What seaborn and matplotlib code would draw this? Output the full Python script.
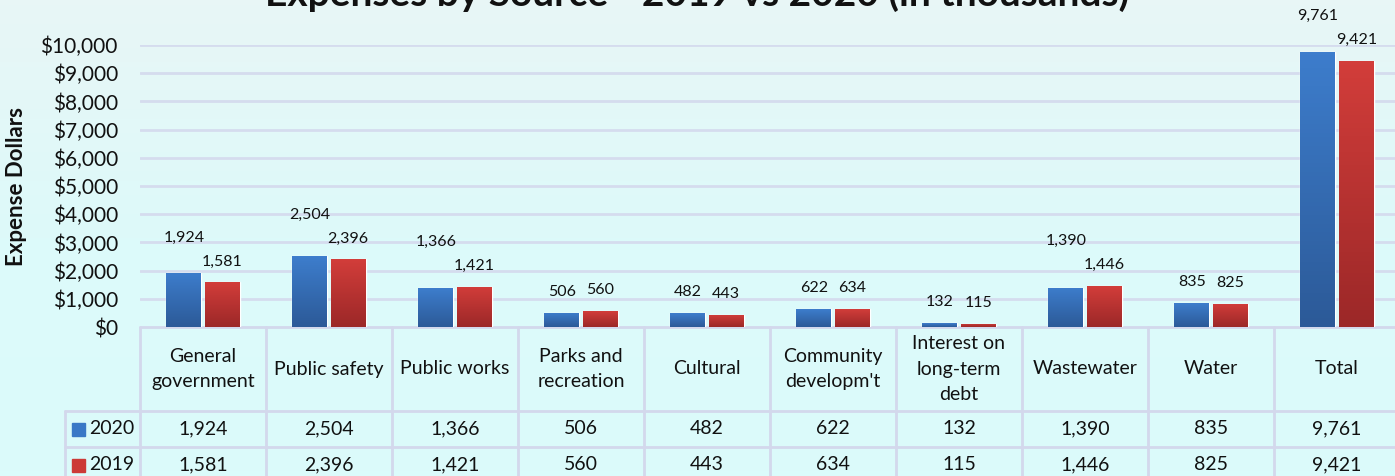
import numpy as np
import pandas as pd
import matplotlib
matplotlib.use("Agg")
import matplotlib.pyplot as plt
import seaborn as sns
from matplotlib.colors import LinearSegmentedColormap

categories = ["General\ngovernment", "Public safety", "Public works", "Parks and\nrecreation",
              "Cultural", "Community\ndevelopm't", "Interest on\nlong-term\ndebt",
              "Wastewater", "Water", "Total"]
years = ["2020", "2019"]
values_2020 = [1924, 2504, 1366, 506, 482, 622, 132, 1390, 835, 9761]
values_2019 = [1581, 2396, 1421, 560, 443, 634, 115, 1446, 825, 9421]
yticks = list(range(0, 10001, 1000))
title = "Expenses by Source - 2019 vs 2020 (in thousands)"

df = pd.DataFrame({
    "category": categories * 2,
    "year": [years[0]] * len(categories) + [years[1]] * len(categories),
    "value": values_2020 + values_2019,
})

sns.set_style("white")
plt.rcParams["font.family"] = ["Lato", "DejaVu Sans"]

W, H = 1395, 476
fig = plt.figure(figsize=(W / 100, H / 100), dpi=100)

# background
bg = fig.add_axes([0, 0, 1, 1], zorder=-10)
bg.imshow(np.linspace(0, 1, 100).reshape(-1, 1), aspect="auto", extent=[0, 1, 0, 1],
          cmap=LinearSegmentedColormap.from_list("bg", ["#e8f6f6", "#ddfafa", "#dbfbfb"]))
bg.axis("off")

# layout in pixels
left_px, col_px, base_px, top_px = 140, 126, 327, 45
ax = fig.add_axes([left_px / W, 1 - base_px / H, col_px * len(categories) / W, (base_px - top_px) / H])
ax.patch.set_alpha(0)

colors = {"2020": "#3a78c6", "2019": "#cc3a37"}
grads = {"2020": ["#2c5a98", "#3d7dcc"], "2019": ["#9c2828", "#d23d3a"]}
sns.barplot(data=df, x="category", y="value", hue="year", hue_order=years, order=categories,
            palette=colors, width=0.61, gap=0.09, ax=ax, legend=False, zorder=3)

# gradient fill on bars
for cont, yr in zip(ax.containers, years):
    cmap = LinearSegmentedColormap.from_list(yr, grads[yr])
    for p in cont.patches:
        x0, w, h = p.get_x(), p.get_width(), p.get_height()
        im = ax.imshow(np.linspace(0, 1, 64).reshape(-1, 1), origin="lower", aspect="auto",
                       extent=[x0, x0 + w, 0, h], cmap=cmap, zorder=4)
        im.set_clip_path(p)

ax.set_xlim(-0.5, len(categories) - 0.5)
ax.set_ylim(0, 10000)
ax.set_yticks(yticks)
ax.set_yticklabels([f"${v:,}" for v in yticks], fontsize=15, color="#111111")
ax.tick_params(axis="y", length=0, pad=16)
ax.set_xticks([])
ax.set_xlabel("")
ax.set_ylabel("")
for s in ax.spines.values():
    s.set_visible(False)
for v in yticks[1:]:
    ax.axhline(v, color="#d5dcee", lw=2, zorder=1)

# data labels
px_per_unit = (base_px - top_px) / 10000
off = 21 / px_per_unit
step = 24 / px_per_unit
for i, (a, b) in enumerate(zip(values_2020, values_2019)):
    pa, pb = ax.containers[0].patches[i], ax.containers[1].patches[i]
    xa = pa.get_x() + pa.get_width() / 2
    xb = pb.get_x() + pb.get_width() / 2
    yb = b + off
    ya = a + off
    if len(f"{a:,}") > 3 and abs(ya - yb) < step:
        ya = max(ya, yb + step)
    ax.text(xa, ya, f"{a:,}", ha="center", va="center", fontsize=11.5, color="#111111", zorder=6)
    ax.text(xb, yb, f"{b:,}", ha="center", va="center", fontsize=11.5, color="#111111", zorder=6)

# title and axis label
fig.text(697 / W, 1 - 6 / H, title, ha="center", va="baseline", fontsize=28,
         fontweight="bold", color="#111111")
fig.text(17 / W, 1 - 186 / H, "Expense Dollars", rotation=90, ha="center", va="center",
         fontsize=16, fontweight="bold", color="#111111")

# data table
tab = fig.add_axes([0, 0, 1, 1], zorder=-5)
tab.set_xlim(0, W)
tab.set_ylim(H, 0)
tab.axis("off")
line_c = "#d3d8ec"
leg_px, hdr_px, row1_px, row2_px, end_px = 65, 411, 447, 483, 520
right_px = left_px + col_px * len(categories)
tab.plot([left_px, right_px], [base_px, base_px], color=line_c, lw=2)
for yy in (hdr_px, row1_px):
    tab.plot([leg_px, right_px], [yy, yy], color=line_c, lw=2)
for i in range(len(categories) + 1):
    xx = left_px + col_px * i
    tab.plot([xx, xx], [base_px, end_px], color=line_c, lw=2)
tab.plot([leg_px, leg_px], [hdr_px, end_px], color=line_c, lw=2)

for i, cat in enumerate(categories):
    cx = left_px + col_px * (i + 0.5)
    tab.text(cx, (base_px + hdr_px) / 2, cat, ha="center", va="center", fontsize=14,
             linespacing=1.6, color="#111111")
    tab.text(cx, (hdr_px + row1_px) / 2, f"{values_2020[i]:,}", ha="center", va="center",
             fontsize=14, color="#111111")
    tab.text(cx, (row1_px + row2_px) / 2, f"{values_2019[i]:,}", ha="center", va="center",
             fontsize=14, color="#111111")

for yr, yc in zip(years, [(hdr_px + row1_px) / 2, (row1_px + row2_px) / 2]):
    tab.add_patch(plt.Rectangle((72, yc - 6.5), 13, 13, color=colors[yr]))
    tab.text(89, yc, yr, ha="left", va="center", fontsize=14, color="#111111")

fig.savefig("out.png", dpi=100)
